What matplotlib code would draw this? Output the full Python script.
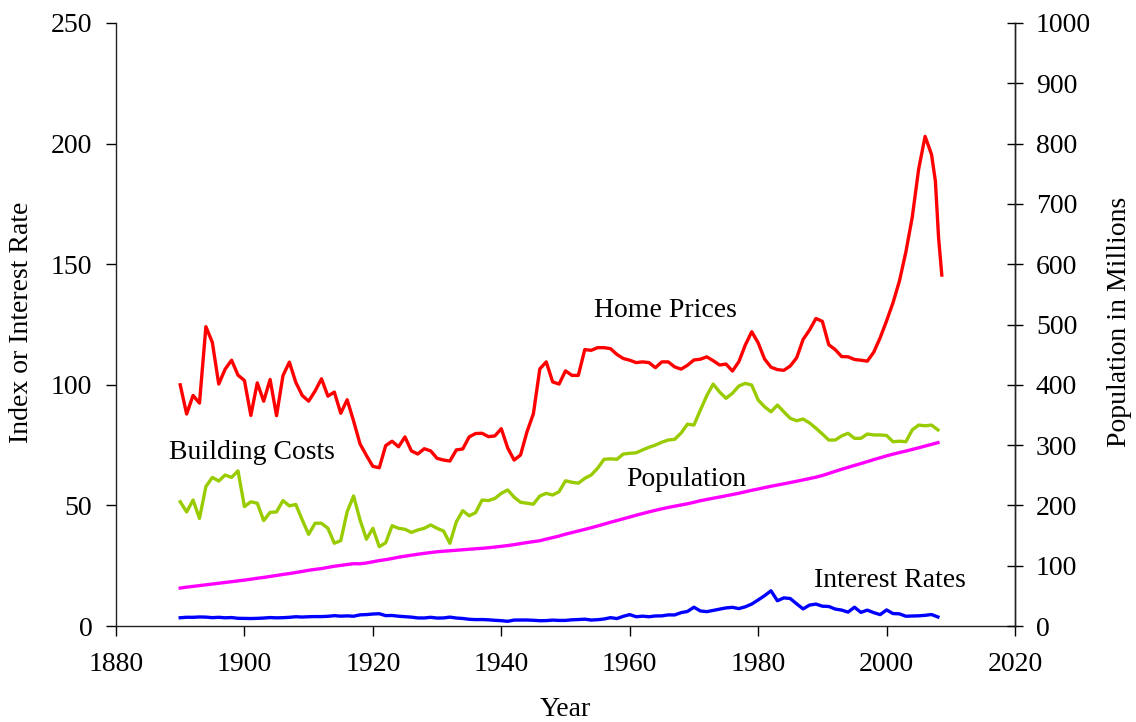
import matplotlib
matplotlib.use("Agg")
import matplotlib.pyplot as plt
import numpy as np

plt.rcParams['font.family'] = ['Liberation Serif', 'DejaVu Serif']

# ---------------- data ----------------
home_years = list(range(1890, 2007)) + [2007.0, 2007.6, 2008.1, 2008.6]
home_prices = [
    100.0, 87.9, 95.6, 92.4, 124.1, 117.6, 100.3, 106.5, 110.2, 104.0,   # 1890s
    101.8, 87.3, 100.8, 93.2, 102.2, 87.2, 103.8, 109.4, 101.0, 95.6,    # 1900s
    93.2, 97.4, 102.5, 95.3, 97.0, 88.2, 93.8, 85.0, 75.5, 70.7,         # 1910s
    66.2, 65.6, 74.8, 76.6, 74.3, 78.4, 72.6, 71.3, 73.5, 72.6,          # 1920s
    69.5, 68.8, 68.4, 73.0, 73.4, 78.4, 79.8, 79.9, 78.5, 78.8,          # 1930s
    81.8, 73.8, 68.8, 70.9, 80.5, 88.0, 106.6, 109.5, 101.2, 100.3,      # 1940s
    105.8, 103.9, 103.9, 114.6, 114.3, 115.4, 115.4, 115.0, 112.6, 110.9, # 1950s
    110.2, 109.2, 109.5, 109.2, 107.1, 109.5, 109.5, 107.4, 106.5, 108.1, # 1960s
    110.3, 110.6, 111.6, 110.0, 108.2, 108.6, 105.7, 109.6, 116.5, 122.0, # 1970s
    117.4, 110.7, 107.3, 106.3, 106.0, 107.8, 111.2, 118.8, 122.7, 127.5, # 1980s
    126.3, 116.6, 114.6, 111.7, 111.6, 110.5, 110.2, 109.8, 113.5, 119.5, # 1990s
    126.5, 134.0, 143.0, 155.0, 169.5, 189.5, 203.0,                      # 2000-2006
    195.5, 184.5, 161.0, 145.5,
]

build_years = list(range(1890, 2009))
building_costs = [
    51.5, 47.3, 52.2, 44.6, 57.8, 61.6, 60.1, 62.6, 61.6, 64.3,          # 1890s
    49.5, 51.5, 50.9, 43.7, 47.1, 47.3, 52.0, 49.8, 50.4, 44.0,          # 1900s
    38.0, 42.6, 42.6, 40.5, 34.3, 35.4, 47.4, 53.9, 44.0, 36.0,          # 1910s
    40.5, 32.9, 34.5, 41.6, 40.5, 40.1, 38.8, 39.8, 40.5, 41.9,          # 1920s
    40.5, 39.4, 34.3, 43.2, 47.8, 45.7, 47.0, 52.2, 52.0, 52.9,          # 1930s
    55.0, 56.4, 53.4, 51.3, 50.9, 50.5, 53.9, 55.0, 54.3, 55.7,          # 1940s
    60.2, 59.6, 59.2, 61.2, 62.6, 65.4, 69.1, 69.3, 69.1, 71.3,          # 1950s
    71.6, 71.8, 73.0, 74.1, 75.0, 76.2, 77.1, 77.4, 80.0, 83.7,          # 1960s
    83.3, 89.5, 95.5, 100.3, 97.0, 94.4, 96.5, 99.5, 100.6, 99.9,        # 1970s
    93.7, 90.9, 88.8, 91.6, 88.8, 86.1, 85.1, 85.8, 84.2, 82.0,          # 1980s
    79.6, 77.1, 77.1, 78.8, 79.9, 77.8, 77.8, 79.6, 79.2, 79.2,          # 1990s
    79.0, 76.4, 76.6, 76.4, 81.3, 83.3, 83.0, 83.3, 81.3,                # 2000s
]

rate_years = list(range(1890, 2009))
interest_rates = [
    3.42, 3.62, 3.60, 3.75, 3.68, 3.46, 3.60, 3.40, 3.50, 3.19,          # 1890s
    3.15, 3.10, 3.17, 3.30, 3.50, 3.38, 3.45, 3.60, 3.84, 3.71,          # 1900s
    3.84, 3.91, 3.90, 4.02, 4.28, 4.08, 4.20, 4.05, 4.62, 4.73,          # 1910s
    4.97, 5.09, 4.30, 4.36, 4.06, 3.86, 3.68, 3.34, 3.33, 3.60,          # 1920s
    3.29, 3.34, 3.68, 3.31, 3.12, 2.79, 2.65, 2.68, 2.56, 2.36,          # 1930s
    2.21, 1.95, 2.46, 2.47, 2.48, 2.37, 2.19, 2.25, 2.44, 2.31,          # 1940s
    2.32, 2.57, 2.68, 2.83, 2.48, 2.61, 2.90, 3.46, 3.09, 4.02,          # 1950s
    4.72, 3.84, 4.08, 3.83, 4.17, 4.19, 4.61, 4.58, 5.53, 6.04,          # 1960s
    7.79, 6.24, 5.95, 6.46, 6.99, 7.50, 7.74, 7.21, 7.96, 9.10,          # 1970s
    10.80, 12.57, 14.59, 10.46, 11.67, 11.38, 9.19, 7.08, 8.67, 9.09,    # 1980s
    8.21, 8.09, 7.03, 6.60, 5.75, 7.78, 5.65, 6.58, 5.54, 4.72,          # 1990s
    6.66, 5.16, 5.04, 4.05, 4.15, 4.22, 4.42, 4.76, 3.74,                # 2000s
]

pop_years = list(range(1890, 2009))
population = [
    62.9, 64.4, 65.7, 67.0, 68.3, 69.6, 70.9, 72.2, 73.5, 74.8,
    76.1, 77.6, 79.2, 80.6, 82.2, 83.8, 85.5, 87.0, 88.7, 90.5,
    92.4, 93.9, 95.3, 97.2, 99.1, 100.5, 102.0, 103.3, 103.2, 104.5,
    106.5, 108.5, 110.0, 111.9, 114.1, 115.8, 117.4, 119.0, 120.5, 121.8,
    123.1, 124.0, 124.8, 125.6, 126.4, 127.3, 128.1, 128.8, 129.8, 130.9,
    132.1, 133.4, 134.9, 136.7, 138.4, 139.9, 141.4, 144.1, 146.6, 149.2,
    152.3, 154.9, 157.6, 160.2, 163.0, 165.9, 168.9, 172.0, 174.9, 177.8,
    180.7, 183.7, 186.5, 189.2, 191.9, 194.3, 196.6, 198.7, 200.7, 202.7,
    205.1, 207.7, 209.9, 211.9, 213.9, 216.0, 218.0, 220.2, 222.6, 225.1,
    227.2, 229.5, 231.7, 233.8, 235.8, 237.9, 240.1, 242.3, 244.5, 246.8,
    249.6, 253.0, 256.5, 259.9, 263.1, 266.3, 269.4, 272.6, 275.9, 279.0,
    282.2, 285.0, 287.6, 290.1, 292.8, 295.5, 298.4, 301.2, 304.1,
]

x_ticks = [1880, 1900, 1920, 1940, 1960, 1980, 2000, 2020]
left_ticks = [0, 50, 100, 150, 200, 250]
right_ticks = [0, 100, 200, 300, 400, 500, 600, 700, 800, 900, 1000]

# ---------------- figure ----------------
W, H = 1136, 722
fig = plt.figure(figsize=(W / 100, H / 100), dpi=100)
ax = fig.add_axes([116 / W, 1 - 626 / H, (1015 - 116) / W, (626 - 23) / H])
ax2 = ax.twinx()

lw = 2.4
ax.plot(home_years, home_prices, color='#ff0000', lw=lw, zorder=4)
ax.plot(build_years, building_costs, color='#99cc00', lw=lw, zorder=3)
ax.plot(rate_years, interest_rates, color='#0000ff', lw=lw, zorder=3)
ax2.plot(pop_years, population, color='#ff00ff', lw=lw, zorder=3)

ax.set_xlim(1880, 2020)
ax.set_ylim(0, 250)
ax2.set_ylim(0, 1000)
ax.set_xticks(x_ticks)
ax.set_yticks(left_ticks)
ax2.set_yticks(right_ticks)

fs = 20
ax.tick_params(axis='x', direction='out', length=7, width=1, labelsize=fs, pad=12)
ax.tick_params(axis='y', direction='out', length=7, width=1, labelsize=fs, pad=10)
ax2.tick_params(axis='y', direction='inout', length=12, width=1, labelsize=fs, pad=9)

for a in (ax, ax2):
    a.spines['top'].set_visible(False)
    for s in ('left', 'right', 'bottom'):
        a.spines[s].set_linewidth(1.0)
        a.spines[s].set_color('#222222')
ax2.spines['left'].set_visible(False)
ax2.spines['bottom'].set_visible(False)

fig.text(565 / W, 1 - 710 / H, 'Year', fontsize=fs, ha='center', va='center')
fig.text(22 / W, 1 - 322 / H, 'Index or Interest Rate', fontsize=fs,
         rotation=90, ha='center', va='center')
fig.text(1120 / W, 1 - 322 / H, 'Population in Millions', fontsize=fs,
         rotation=90, ha='center', va='center')

tfs = 20
ax.text(1965.5, 130.6, 'Home Prices', fontsize=tfs, ha='center', va='center')
ax.text(1888.3, 72.1, 'Building Costs', fontsize=tfs, ha='left', va='center')
ax.text(1968.8, 60.9, 'Population', fontsize=tfs, ha='center', va='center')
ax.text(2000.5, 18.7, 'Interest Rates', fontsize=tfs, ha='center', va='center')

fig.savefig('out.png', dpi=100)
